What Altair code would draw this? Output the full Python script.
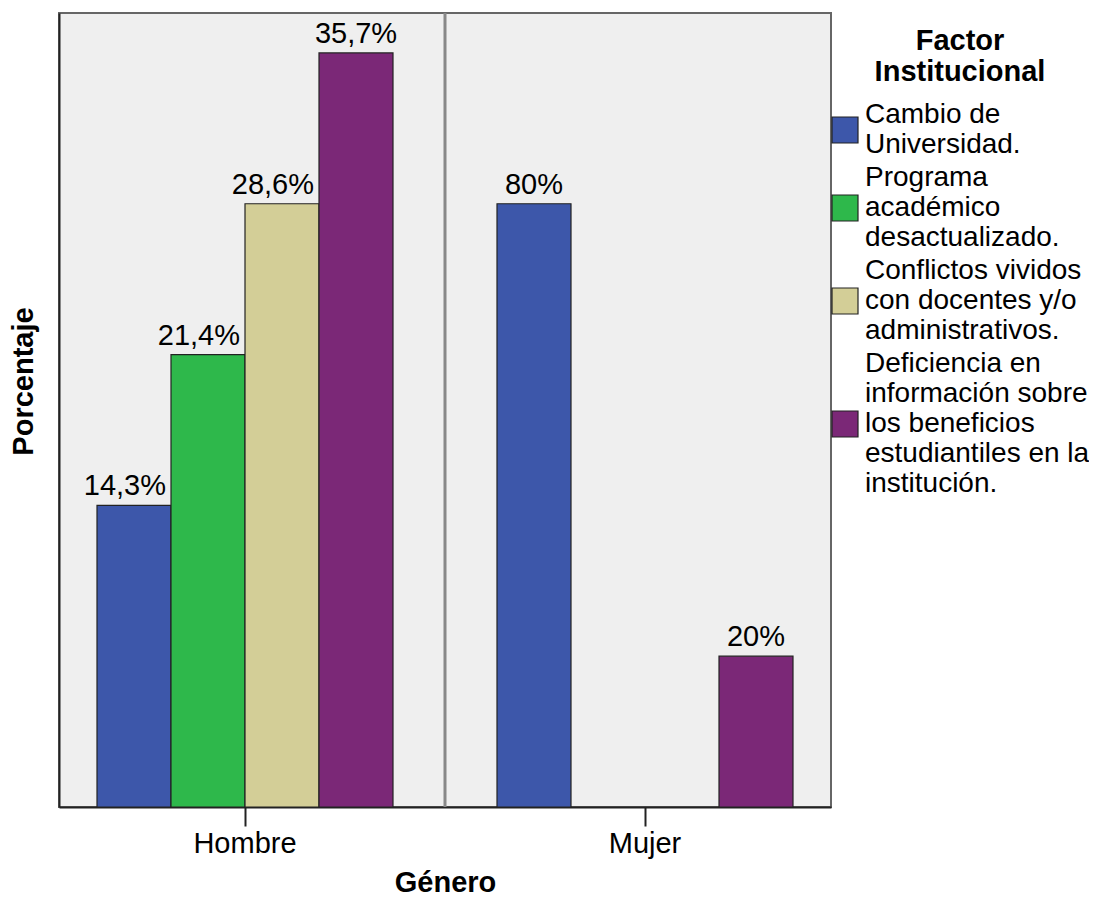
import altair as alt
import pandas as pd

genders = ["Hombre", "Hombre", "Hombre", "Hombre", "Mujer", "Mujer"]
factors = [
    "Cambio de Universidad.",
    "Programa académico desactualizado.",
    "Conflictos vividos con docentes y/o administrativos.",
    "Deficiencia en información sobre los beneficios estudiantiles en la institución.",
    "Cambio de Universidad.",
    "Deficiencia en información sobre los beneficios estudiantiles en la institución.",
]
counts = [2, 3, 4, 5, 4, 1]
pct_labels = ["14,3%", "21,4%", "28,6%", "35,7%", "80%", "20%"]

factor_order = [
    "Cambio de Universidad.",
    "Programa académico desactualizado.",
    "Conflictos vividos con docentes y/o administrativos.",
    "Deficiencia en información sobre los beneficios estudiantiles en la institución.",
]
legend_lines = [
    ["Cambio de", "Universidad."],
    ["Programa", "académico", "desactualizado."],
    ["Conflictos vividos", "con docentes y/o", "administrativos."],
    ["Deficiencia en", "información sobre", "los beneficios", "estudiantiles en la", "institución."],
]
colors = ["#3D57AA", "#2EB84B", "#D3CE97", "#7B2877"]

df = pd.DataFrame({"Género": genders, "Factor": factors, "n": counts, "pct": pct_labels})
# label is pushed left when the next bar in the same cluster is taller (as SPSS does)
blocked = []
for i in range(len(df)):
    nxt = i + 1
    b = False
    if nxt < len(df) and df.loc[nxt, "Género"] == df.loc[i, "Género"]:
        fi = factor_order.index(df.loc[i, "Factor"])
        fn = factor_order.index(df.loc[nxt, "Factor"])
        b = (fn == fi + 1) and df.loc[nxt, "n"] > df.loc[i, "n"]
    blocked.append(b)
df["blocked"] = blocked

FONT = "Liberation Sans"
FS = 29
LFS = 28
W, H = 772, 794
LH = LFS + 2
HALF = 13.0  # half side of the legend square (px)


def arr(lines):
    return "[" + ",".join("'" + s + "'" for s in lines) + "]"


label_expr = "datum.label"
shape_expr = "'square'"
for cat, lines in reversed(list(zip(factor_order, legend_lines))):
    label_expr = f"datum.label == '{cat}' ? {arr(lines)} : ({label_expr})"
    s = (len(lines) - 1) / 2 * LH / HALF
    path = f"M-1,{-1 + s:.3f}H1V{1 + s:.3f}H-1Z"
    shape_expr = f"datum.value == '{cat}' ? '{path}' : ({shape_expr})"

x_enc = alt.X(
    "Género:N",
    scale=alt.Scale(paddingInner=0.26, paddingOuter=0.095),
    axis=alt.Axis(
        title="Género", labelAngle=0, labelFontSize=FS, labelFont=FONT, labelColor="#000",
        titleFontSize=FS, titleFont=FONT, titleFontWeight="bold", titleColor="#000",
        tickSize=19, tickColor="#222", tickWidth=2, domainColor="#222", domainWidth=2,
        labelPadding=3, titlePadding=10,
    ),
)
xo_enc = alt.XOffset("Factor:N", scale=alt.Scale(domain=factor_order, paddingInner=0, paddingOuter=0))
y_enc = alt.Y(
    "n:Q",
    scale=alt.Scale(domain=[0, 5.265], nice=False, zero=True),
    axis=alt.Axis(
        title="Porcentaje", labels=False, ticks=False, grid=False,
        domainColor="#222", domainWidth=2,
        titleFontSize=FS, titleFont=FONT, titleFontWeight="bold", titleColor="#000",
        titleX=-36, titleY=368, titleAngle=270, titleAlign="center", titleBaseline="middle",
    ),
)

bars = alt.Chart(df).mark_bar(stroke="#222", strokeWidth=1.2).encode(
    x=x_enc,
    xOffset=xo_enc,
    y=y_enc,
    color=alt.Color(
        "Factor:N",
        scale=alt.Scale(domain=factor_order, range=colors),
        legend=alt.Legend(
            title=["Factor", "Institucional"], orient="none", legendX=772, legendY=14,
            titleFontSize=FS, titleFont=FONT, titleFontWeight="bold", titleColor="#000",
            titleAnchor="middle", titleAlign="center", titlePadding=14, titleLimit=400,
            labelFontSize=LFS, labelFont=FONT, labelColor="#000", labelLimit=400,
            labelExpr=label_expr, labelOffset=6,
            symbolType={"expr": shape_expr}, symbolSize=(2 * HALF) ** 2,
            symbolStrokeColor="#222", symbolStrokeWidth=1.2, rowPadding=5, padding=0,
        ),
    ),
)

text_c = alt.Chart(df).transform_filter("!datum.blocked").mark_text(
    baseline="alphabetic", dy=-10, fontSize=FS, font=FONT, color="#000"
).encode(x=x_enc, xOffset=xo_enc, y=y_enc, text="pct:N")

text_r = alt.Chart(df).transform_filter("datum.blocked").mark_text(
    baseline="alphabetic", align="right", dx=32, dy=-10, fontSize=FS, font=FONT, color="#000"
).encode(x=x_enc, xOffset=xo_enc, y=y_enc, text="pct:N")

sep = alt.Chart(alt.Data(values=[{"a": 1}])).mark_rule(color="#888", strokeWidth=3).encode(
    x=alt.value(W / 2), y=alt.value(0), y2=alt.value(H)
)

chart = alt.layer(bars, text_c, text_r, sep).properties(
    width=W, height=H,
    autosize=alt.AutoSizeParams(type="none"),
    padding={"left": 51, "top": 5, "right": 258, "bottom": 88},
).configure_view(
    fill="#EFEFEF", stroke="#666", strokeWidth=2
)

chart.save("out.html", embed_options={"renderer": "svg", "actions": False})
